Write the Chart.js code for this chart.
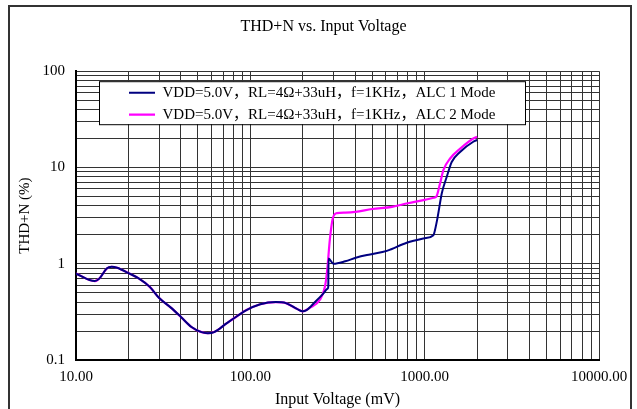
<!DOCTYPE html>
<html>
<head>
<meta charset="utf-8">
<script src="https://cdn.jsdelivr.net/npm/chart.js@4.4.1/dist/chart.umd.min.js"></script>
<style>
    html, body { margin: 0; padding: 0; background: #fff; }
    #wrap { width: 637px; height: 409px; position: relative; }
</style>
</head>
<body>
<div id="wrap"><canvas id="thdChart"></canvas></div>
<script>
// Giá trị (mV, %)
const alc1Voltage = [10, 12.8, 13.6, 15, 16, 17.2, 20, 23, 26.5, 30, 35, 40, 46, 52, 57, 62, 73, 85, 95, 114, 140, 160, 185, 200,
    210, 235, 262, 277, 280, 281, 300, 350, 407, 486, 607, 789, 984, 1122, 1133, 1183, 1254, 1339, 1429, 1596, 1900, 2000];
const alc1Thd = [0.79, 0.66, 0.70, 0.89, 0.93, 0.91, 0.80, 0.70, 0.575, 0.44, 0.35, 0.28, 0.22, 0.196, 0.19, 0.195, 0.24, 0.29, 0.33, 0.38, 0.40, 0.39, 0.34, 0.32,
    0.33, 0.40, 0.49, 0.55, 0.58, 1.13, 1.0, 1.06, 1.16, 1.25, 1.36, 1.65, 1.83, 1.98, 2.06, 2.95, 5.4, 8.0, 11.4, 14.5, 18.5, 19.3];

const alc2Voltage = [10, 12.8, 13.6, 15, 16, 17.2, 20, 23, 26.5, 30, 35, 40, 46, 52, 57, 62, 73, 85, 95, 114, 140, 160, 185, 200,
    220, 250, 268, 276, 286, 297, 313, 350, 400, 500, 650, 800, 1000, 1130, 1165, 1225, 1280, 1400, 1600, 1900, 2000];
const alc2Thd = [0.79, 0.66, 0.70, 0.89, 0.93, 0.91, 0.80, 0.70, 0.575, 0.44, 0.35, 0.28, 0.22, 0.196, 0.19, 0.195, 0.24, 0.29, 0.33, 0.38, 0.40, 0.39, 0.34, 0.32,
    0.35, 0.42, 0.58, 0.86, 1.8, 2.95, 3.35, 3.4, 3.45, 3.7, 3.9, 4.25, 4.6, 4.85, 4.95, 6.8, 9.4, 12.4, 15.7, 20.0, 20.8];

const seriesLabels = [
    'VDD=5.0V，RL=4Ω+33uH，f=1KHz，ALC 1 Mode',
    'VDD=5.0V，RL=4Ω+33uH，f=1KHz，ALC 2 Mode'
];

const xMajorTicks = [10, 100, 1000, 10000];
const xTickLabels = ['10.00', '100.00', '1000.00', '10000.00'];
const yMajorTicks = [0.1, 1, 10, 100];
const yTickLabels = ['0.1', '1', '10', '100'];

// lưới 1..9 trong mỗi thập phân
function decadeTicks(majors) {
    const out = [];
    for (let i = 0; i < majors.length - 1; i++) {
        for (let k = 1; k < 10; k++) out.push(Number((majors[i] * k).toPrecision(6)));
    }
    out.push(majors[majors.length - 1]);
    return out;
}

function toPoints(xs, ys) {
    return xs.map((x, i) => ({ x: x, y: ys[i] }));
}

Chart.defaults.font.family = "'Liberation Serif', 'Noto Sans CJK SC', serif";
Chart.defaults.color = '#000';

// khung ngoài
const framePlugin = {
    id: 'frame',
    beforeDraw(chart) {
        const ctx = chart.ctx;
        ctx.save();
        ctx.strokeStyle = '#333';
        ctx.lineWidth = 2;
        ctx.strokeRect(9, 6, chart.width - 15, chart.height + 10);
        ctx.restore();
    }
};

// đặt chú thích trong vùng biểu đồ, có nền trắng và viền
const legendBoxPlugin = {
    id: 'legendBox',
    afterLayout(chart) {
        const lg = chart.legend;
        const ca = chart.chartArea;
        const w = lg.width, h = lg.height;
        lg.left = ca.left + 46;
        lg.top = ca.top + 7;
        lg.right = lg.left + w + 40;
        lg.bottom = lg.top + h;
    },
    afterDraw(chart) {
        const ctx = chart.ctx;
        const ca = chart.chartArea;
        ctx.save();
        ctx.fillStyle = '#fff';
        ctx.strokeStyle = '#000';
        ctx.lineWidth = 1;
        ctx.fillRect(ca.left + 23, ca.top + 10, 426, 43);
        ctx.strokeRect(ca.left + 23.5, ca.top + 10.5, 426, 43);
        ctx.restore();
        chart.legend.draw();
    }
};

const ctx = document.getElementById('thdChart').getContext('2d');
const thdChart = new Chart(ctx, {
    type: 'line',
    data: {
        datasets: [{
            label: seriesLabels[0],
            data: toPoints(alc1Voltage, alc1Thd),
            borderColor: '#000080',
            backgroundColor: '#000080',
            borderWidth: 2,
            pointRadius: 0,
            cubicInterpolationMode: 'monotone'
        }, {
            label: seriesLabels[1],
            data: toPoints(alc2Voltage, alc2Thd),
            borderColor: '#ff00ff',
            backgroundColor: '#ff00ff',
            borderWidth: 2.2,
            pointRadius: 0,
            cubicInterpolationMode: 'monotone'
        }]
    },
    options: {
        responsive: true,
        maintainAspectRatio: false,
        animation: false,
        layout: {
            padding: { left: 10, top: 0, right: 0, bottom: 0 }
        },
        plugins: {
            title: {
                display: true,
                text: 'THD+N vs. Input Voltage',
                color: '#000',
                font: { size: 16, weight: 'normal' },
                padding: { top: 17, bottom: 35 }
            },
            legend: {
                position: 'chartArea',
                align: 'start',
                labels: {
                    boxWidth: 26,
                    boxHeight: 0,
                    padding: 7,
                    color: '#000',
                    font: { size: 15 }
                }
            },
            tooltip: { enabled: false }
        },
        scales: {
            x: {
                type: 'logarithmic',
                min: 10,
                max: 10000,
                afterFit: scale => { scale.height = 49; },
                afterBuildTicks: scale => {
                    scale.ticks = decadeTicks(xMajorTicks).map(v => ({ value: v }));
                },
                ticks: {
                    autoSkip: false,
                    maxRotation: 0,
                    padding: 8,
                    font: { size: 15 },
                    callback: value => {
                        const i = xMajorTicks.indexOf(value);
                        return i >= 0 ? xTickLabels[i] : '';
                    }
                },
                grid: { color: '#333', lineWidth: 1, drawTicks: false },
                border: { display: true, color: '#000', width: 2 },
                title: {
                    display: true,
                    text: 'Input Voltage (mV)',
                    font: { size: 16 },
                    padding: { top: 0, bottom: 0 }
                }
            },
            y: {
                type: 'logarithmic',
                min: 0.1,
                max: 100,
                afterFit: scale => { scale.width = 66; },
                afterBuildTicks: scale => {
                    scale.ticks = decadeTicks(yMajorTicks).map(v => ({ value: v }));
                },
                ticks: {
                    autoSkip: false,
                    padding: 11,
                    font: { size: 15 },
                    callback: value => {
                        const i = yMajorTicks.indexOf(value);
                        return i >= 0 ? yTickLabels[i] : '';
                    }
                },
                grid: { color: '#333', lineWidth: 1, drawTicks: false },
                border: { display: true, color: '#000', width: 2 },
                title: {
                    display: true,
                    text: 'THD+N (%)',
                    font: { size: 15 },
                    padding: { top: 6 }
                }
            },
            // trục trống bên phải để chừa lề
            yRight: {
                type: 'linear',
                position: 'right',
                afterFit: scale => { scale.width = 38; },
                grid: { display: false, drawTicks: false },
                border: { display: false },
                ticks: { display: false }
            }
        }
    },
    plugins: [framePlugin, legendBoxPlugin]
});
</script>
</body>
</html>
